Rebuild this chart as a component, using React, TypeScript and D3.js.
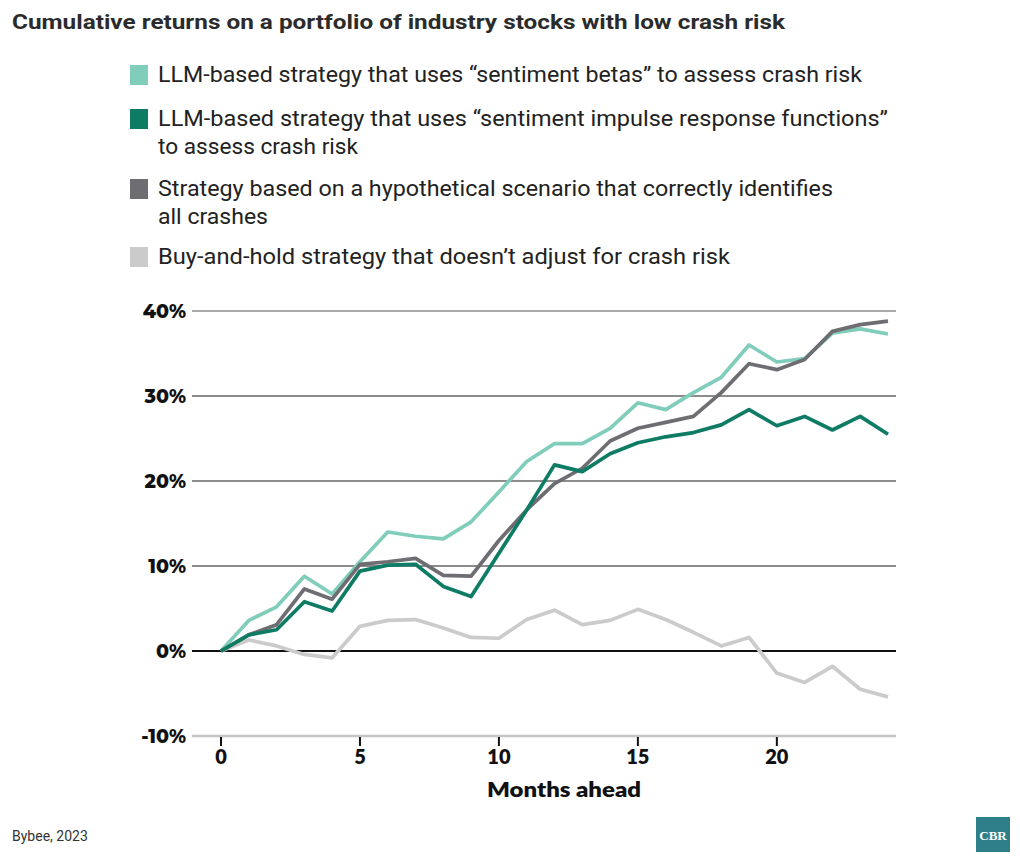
import React from "react";
import * as d3 from "d3";

const months = d3.range(0, 25);
const sentimentBetas = [0, 3.6, 5.2, 8.8, 6.7, 10.5, 14.0, 13.5, 13.2, 15.2, 18.7, 22.3, 24.4, 24.4, 26.2, 29.2, 28.4, 30.4, 32.2, 36.0, 34.0, 34.4, 37.4, 37.9, 37.3];
const impulseResponse = [0, 1.9, 2.5, 5.8, 4.7, 9.4, 10.1, 10.2, 7.6, 6.4, 11.5, 16.6, 21.9, 21.1, 23.2, 24.5, 25.2, 25.7, 26.6, 28.4, 26.5, 27.6, 26.0, 27.6, 25.5];
const hypothetical = [0, 1.9, 3.1, 7.3, 6.1, 10.2, 10.5, 10.9, 8.9, 8.8, 13.0, 16.6, 19.7, 21.5, 24.7, 26.2, 26.9, 27.6, 30.4, 33.8, 33.1, 34.3, 37.6, 38.4, 38.8];
const buyAndHold = [0, 1.3, 0.6, -0.4, -0.8, 2.9, 3.6, 3.7, 2.7, 1.6, 1.5, 3.7, 4.8, 3.1, 3.6, 4.9, 3.7, 2.2, 0.6, 1.6, -2.6, -3.7, -1.8, -4.5, -5.4];

const yTicks = [-10, 0, 10, 20, 30, 40];
const xTicks = [0, 5, 10, 15, 20];

const seriesNames = [
  ["LLM-based strategy that uses \u201csentiment betas\u201d to assess crash risk"],
  ["LLM-based strategy that uses \u201csentiment impulse response functions\u201d", "to assess crash risk"],
  ["Strategy based on a hypothetical scenario that correctly identifies", "all crashes"],
  ["Buy-and-hold strategy that doesn\u2019t adjust for crash risk"],
];
const legendWidths = [[704], [730, 200], [675, 110], [572]];
const seriesColors = ["#80cdbb", "#0e7c64", "#6d6d72", "#cbcbcb"];
const seriesData = [sentimentBetas, impulseResponse, hypothetical, buyAndHold];

const W = 1020;
const H = 866;

export default function App() {
  const x = d3.scaleLinear().domain([0, 24]).range([221, 888]);
  const y = d3.scaleLinear().domain([-10, 40]).range([736, 311]);
  const line = d3
    .line<number>()
    .x((_, i) => x(months[i]))
    .y((d) => y(d));

  const legendRows = [74, 118, 188, 256];
  const drawOrder = [3, 0, 2, 1];

  return (
    <svg width={W} height={H} style={{ position: "absolute", left: 0, top: 0, background: "#fff" }}>
      <text x={12} y={29} fontFamily="Roboto, 'Open Sans', sans-serif" fontWeight={700} fontSize={21} fill="#2b2b2b" textLength={773} lengthAdjust="spacingAndGlyphs">
        Cumulative returns on a portfolio of industry stocks with low crash risk
      </text>

      {seriesNames.map((lines, i) => (
        <g key={i}>
          <rect x={130} y={legendRows[i] - 9} width={18} height={20} fill={seriesColors[i]} />
          {lines.map((t, j) => (
            <text
              key={j}
              x={158}
              y={legendRows[i] + j * 28 + 8}
              fontFamily="Roboto, sans-serif"
              fontSize={22}
              fill="#222"
              textLength={legendWidths[i][j]}
              lengthAdjust="spacingAndGlyphs"
            >
              {t}
            </text>
          ))}
        </g>
      ))}

      {yTicks.map((t) => (
        <g key={t}>
          <line
            x1={192}
            x2={896}
            y1={y(t)}
            y2={y(t)}
            stroke={t === 0 ? "#111" : t === -10 ? "#c4c4c4" : t === 40 ? "#8c8c8c" : "#666"}
            strokeWidth={t === 0 ? 2.2 : t === -10 ? 2.5 : 1.3}
          />
          <text x={186} y={y(t) + 7} textAnchor="end" fontFamily="Montserrat, Lato, sans-serif" fontWeight={800} fontSize={19} fill="#111">
            {t}%
          </text>
        </g>
      ))}

      {xTicks.map((t) => (
        <g key={t}>
          <line x1={x(t)} x2={x(t)} y1={737} y2={746} stroke="#111" strokeWidth={2} />
          <text x={x(t)} y={764} textAnchor="middle" fontFamily="Lato, sans-serif" fontWeight={800} fontSize={20} fill="#111">
            {t}
          </text>
        </g>
      ))}
      <text x={564} y={797} textAnchor="middle" fontFamily="Lato, sans-serif" fontWeight={800} fontSize={20} fill="#111" textLength={154} lengthAdjust="spacingAndGlyphs">
        Months ahead
      </text>

      {drawOrder.map((i) => (
        <path key={i} d={line(seriesData[i]) || ""} fill="none" stroke={seriesColors[i]} strokeWidth={3.7} strokeLinejoin="round" />
      ))}

      <text x={12} y={841} fontFamily="Roboto, sans-serif" fontSize={14} fill="#333">
        Bybee, 2023
      </text>
      <rect x={976} y={817} width={34} height={35} fill="#2f7f8b" />
      <text x={993} y={840} textAnchor="middle" fontFamily="'Liberation Serif', serif" fontWeight={700} fontSize={13} fill="#fff">
        CBR
      </text>
    </svg>
  );
}
